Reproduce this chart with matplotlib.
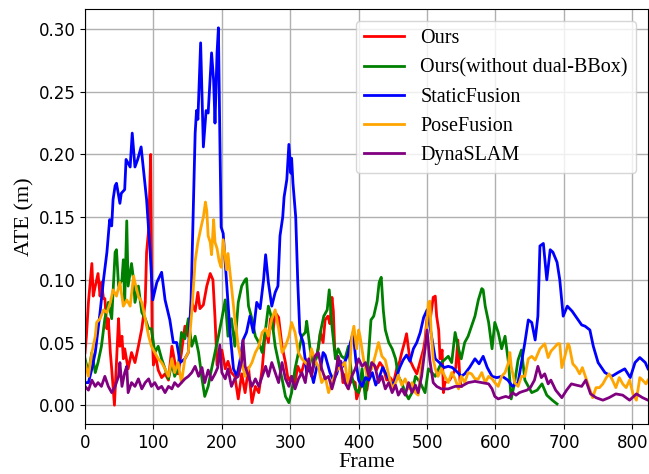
import matplotlib
matplotlib.use("Agg")
import matplotlib.pyplot as plt

# ---------------- data ----------------
ours_f = [0, 2, 5, 10, 12, 15, 19, 22, 24, 27, 29, 32, 34, 37, 39, 43, 46, 49, 51, 54, 56, 58, 63, 68, 73, 78, 83, 88, 90, 93, 96, 98, 100, 103, 107, 112, 117, 122, 127, 131, 136, 141, 146, 151, 156, 161, 165, 168, 173, 178, 183, 187, 190, 193, 197, 200, 205, 209, 214, 219, 224, 229, 234, 239, 244, 249, 254, 259, 264, 268, 271, 275, 278, 283, 288, 293, 297, 302, 306, 311, 316, 322, 327, 331, 336, 341, 344, 348, 351, 355, 358, 361, 363, 365, 370, 374, 377, 381, 384, 390, 395, 397, 400, 406, 412, 417, 421, 426, 431, 436, 441, 446, 451, 456, 460, 463, 467, 470, 475, 480, 485, 490, 495, 497, 501, 505, 509, 512, 514, 517, 519, 522, 524, 526, 533, 538, 542, 545, 548, 550]
ours_v = [0.042, 0.055, 0.082, 0.113, 0.087, 0.095, 0.105, 0.087, 0.098, 0.085, 0.085, 0.061, 0.069, 0.042, 0.029, 0.0, 0.034, 0.069, 0.047, 0.055, 0.037, 0.045, 0.029, 0.042, 0.034, 0.047, 0.061, 0.082, 0.122, 0.14, 0.2, 0.06, 0.032, 0.04, 0.028, 0.022, 0.025, 0.02, 0.047, 0.035, 0.025, 0.042, 0.063, 0.055, 0.082, 0.075, 0.09, 0.077, 0.08, 0.095, 0.105, 0.1, 0.07, 0.032, 0.042, 0.044, 0.029, 0.035, 0.026, 0.023, 0.005, 0.025, 0.01, 0.03, 0.002, 0.015, 0.01, 0.029, 0.061, 0.05, 0.069, 0.06, 0.074, 0.07, 0.047, 0.034, 0.02, 0.023, 0.015, 0.031, 0.025, 0.037, 0.03, 0.024, 0.035, 0.045, 0.058, 0.05, 0.068, 0.071, 0.065, 0.086, 0.075, 0.045, 0.034, 0.035, 0.018, 0.025, 0.014, 0.02, 0.018, 0.005, 0.01, 0.02, 0.012, 0.03, 0.034, 0.028, 0.034, 0.03, 0.02, 0.022, 0.018, 0.03, 0.035, 0.042, 0.05, 0.057, 0.036, 0.03, 0.025, 0.035, 0.045, 0.052, 0.076, 0.07, 0.086, 0.087, 0.071, 0.06, 0.037, 0.044, 0.01, 0.018, 0.02, 0.025, 0.03, 0.052, 0.02, 0.015]

nodual_f = [0, 5, 10, 15, 19, 24, 29, 34, 39, 44, 46, 49, 54, 56, 58, 61, 63, 68, 71, 73, 78, 83, 88, 93, 97, 102, 107, 112, 117, 122, 127, 131, 136, 141, 146, 151, 156, 161, 166, 171, 175, 180, 185, 190, 195, 200, 205, 209, 214, 219, 224, 229, 234, 236, 239, 244, 249, 254, 259, 264, 268, 273, 278, 283, 288, 293, 298, 302, 307, 312, 317, 322, 324, 329, 334, 339, 344, 349, 354, 357, 361, 366, 370, 375, 380, 385, 390, 395, 400, 405, 410, 415, 418, 422, 427, 430, 433, 436, 439, 444, 449, 454, 458, 463, 468, 473, 478, 483, 490, 497, 502, 512, 521, 531, 536, 541, 546, 550, 555, 560, 565, 570, 575, 580, 582, 585, 590, 595, 599, 604, 609, 614, 619, 623, 628, 633, 638, 643, 648, 653, 661, 668, 675, 683, 690]
nodual_v = [0.037, 0.026, 0.042, 0.026, 0.034, 0.047, 0.069, 0.082, 0.069, 0.122, 0.124, 0.095, 0.1, 0.116, 0.082, 0.147, 0.095, 0.113, 0.1, 0.082, 0.095, 0.074, 0.069, 0.061, 0.061, 0.042, 0.047, 0.037, 0.029, 0.021, 0.034, 0.023, 0.029, 0.058, 0.053, 0.069, 0.047, 0.055, 0.042, 0.021, 0.007, 0.015, 0.029, 0.042, 0.055, 0.069, 0.084, 0.055, 0.069, 0.047, 0.082, 0.095, 0.1, 0.101, 0.079, 0.069, 0.055, 0.05, 0.042, 0.061, 0.079, 0.069, 0.047, 0.034, 0.021, 0.007, 0.002, 0.01, 0.029, 0.042, 0.055, 0.058, 0.067, 0.045, 0.031, 0.039, 0.058, 0.071, 0.076, 0.092, 0.063, 0.037, 0.045, 0.039, 0.037, 0.047, 0.023, 0.013, 0.01, 0.029, 0.005, 0.045, 0.068, 0.071, 0.083, 0.098, 0.102, 0.076, 0.06, 0.05, 0.045, 0.037, 0.023, 0.018, 0.01, 0.005, 0.01, 0.023, 0.018, 0.01, 0.029, 0.023, 0.034, 0.039, 0.034, 0.058, 0.045, 0.037, 0.05, 0.055, 0.063, 0.071, 0.084, 0.093, 0.092, 0.079, 0.066, 0.045, 0.066, 0.058, 0.045, 0.055, 0.034, 0.005, 0.018, 0.036, 0.044, 0.02, 0.015, 0.01, 0.012, 0.017, 0.008, 0.004, 0.001]

static_f = [0, 5, 10, 15, 22, 27, 32, 36, 39, 41, 44, 46, 51, 53, 58, 60, 66, 69, 73, 77, 82, 85, 90, 95, 99, 105, 112, 117, 124, 129, 134, 139, 146, 151, 155, 158, 161, 163, 165, 169, 173, 177, 180, 185, 188, 190, 193, 195, 197, 199, 202, 207, 212, 217, 222, 227, 231, 236, 241, 246, 251, 256, 261, 264, 268, 273, 278, 282, 285, 289, 291, 295, 298, 301, 302, 304, 308, 311, 314, 319, 324, 329, 334, 339, 344, 348, 351, 358, 363, 368, 373, 377, 384, 388, 392, 396, 400, 405, 410, 415, 420, 425, 430, 435, 440, 445, 450, 455, 460, 465, 470, 475, 480, 485, 490, 495, 500, 505, 512, 518, 525, 531, 537, 545, 550, 555, 562, 570, 576, 582, 588, 595, 602, 610, 618, 625, 633, 639, 643, 648, 653, 658, 662, 665, 670, 675, 680, 684, 690, 694, 699, 705, 712, 721, 726, 731, 738, 743, 750, 760, 770, 779, 789, 797, 804, 811, 819, 823]
static_v = [0.018, 0.018, 0.029, 0.042, 0.074, 0.1, 0.122, 0.148, 0.143, 0.164, 0.175, 0.177, 0.161, 0.169, 0.172, 0.196, 0.19, 0.217, 0.19, 0.196, 0.206, 0.19, 0.164, 0.124, 0.084, 0.098, 0.106, 0.084, 0.068, 0.05, 0.05, 0.034, 0.037, 0.042, 0.084, 0.15, 0.217, 0.235, 0.228, 0.289, 0.206, 0.235, 0.233, 0.281, 0.259, 0.225, 0.281, 0.301, 0.217, 0.142, 0.137, 0.098, 0.058, 0.029, 0.023, 0.037, 0.052, 0.058, 0.071, 0.058, 0.082, 0.077, 0.1, 0.12, 0.098, 0.079, 0.09, 0.095, 0.135, 0.15, 0.166, 0.18, 0.208, 0.185, 0.197, 0.177, 0.15, 0.098, 0.058, 0.05, 0.026, 0.03, 0.018, 0.031, 0.028, 0.042, 0.04, 0.026, 0.02, 0.025, 0.035, 0.031, 0.04, 0.05, 0.058, 0.035, 0.02, 0.015, 0.022, 0.02, 0.026, 0.016, 0.022, 0.03, 0.025, 0.02, 0.016, 0.022, 0.03, 0.036, 0.04, 0.035, 0.045, 0.05, 0.058, 0.07, 0.076, 0.06, 0.037, 0.034, 0.03, 0.031, 0.03, 0.026, 0.023, 0.025, 0.03, 0.037, 0.033, 0.039, 0.03, 0.023, 0.022, 0.023, 0.02, 0.015, 0.018, 0.037, 0.05, 0.068, 0.066, 0.052, 0.071, 0.127, 0.129, 0.1, 0.124, 0.122, 0.114, 0.1, 0.071, 0.079, 0.075, 0.068, 0.064, 0.063, 0.06, 0.047, 0.034, 0.026, 0.023, 0.026, 0.029, 0.022, 0.034, 0.038, 0.034, 0.029]

pose_f = [0, 5, 10, 15, 17, 22, 27, 32, 37, 41, 46, 51, 56, 61, 66, 71, 73, 78, 83, 88, 93, 97, 102, 107, 112, 117, 122, 127, 131, 136, 141, 146, 151, 156, 161, 165, 170, 173, 176, 178, 180, 183, 185, 188, 190, 193, 196, 199, 202, 207, 209, 214, 219, 224, 229, 234, 239, 244, 249, 254, 259, 264, 268, 273, 278, 283, 288, 293, 298, 302, 307, 312, 317, 322, 327, 331, 336, 341, 346, 351, 356, 361, 366, 370, 375, 380, 385, 390, 393, 397, 400, 402, 407, 412, 419, 424, 429, 434, 439, 444, 449, 454, 458, 463, 468, 473, 478, 483, 487, 492, 497, 502, 504, 506, 509, 512, 516, 521, 526, 531, 536, 541, 546, 550, 555, 560, 565, 570, 575, 580, 585, 590, 595, 599, 604, 609, 614, 619, 621, 623, 628, 633, 638, 643, 648, 653, 658, 665, 672, 677, 681, 686, 691, 694, 697, 701, 706, 708, 713, 718, 723, 727, 732, 737, 742, 747, 752, 757, 762, 766, 771, 776, 781, 786, 791, 796, 801, 806, 811, 815, 820, 823]
pose_v = [0.034, 0.023, 0.042, 0.055, 0.066, 0.069, 0.076, 0.074, 0.082, 0.092, 0.087, 0.098, 0.079, 0.084, 0.079, 0.103, 0.098, 0.087, 0.082, 0.069, 0.055, 0.047, 0.042, 0.037, 0.034, 0.029, 0.023, 0.037, 0.026, 0.034, 0.018, 0.037, 0.042, 0.074, 0.115, 0.13, 0.143, 0.15, 0.162, 0.155, 0.135, 0.13, 0.12, 0.148, 0.13, 0.125, 0.115, 0.11, 0.132, 0.108, 0.121, 0.095, 0.069, 0.047, 0.034, 0.023, 0.029, 0.034, 0.042, 0.047, 0.058, 0.061, 0.055, 0.069, 0.076, 0.061, 0.042, 0.047, 0.055, 0.066, 0.058, 0.042, 0.037, 0.034, 0.031, 0.045, 0.036, 0.031, 0.018, 0.023, 0.01, 0.018, 0.026, 0.029, 0.031, 0.034, 0.013, 0.055, 0.063, 0.045, 0.06, 0.055, 0.037, 0.024, 0.029, 0.039, 0.05, 0.039, 0.036, 0.024, 0.013, 0.018, 0.024, 0.016, 0.021, 0.013, 0.018, 0.01, 0.008, 0.031, 0.045, 0.082, 0.083, 0.058, 0.037, 0.029, 0.023, 0.029, 0.023, 0.018, 0.026, 0.021, 0.013, 0.023, 0.018, 0.026, 0.025, 0.021, 0.021, 0.026, 0.018, 0.023, 0.021, 0.018, 0.015, 0.023, 0.026, 0.034, 0.042, 0.031, 0.018, 0.015, 0.023, 0.023, 0.037, 0.039, 0.036, 0.045, 0.049, 0.038, 0.043, 0.046, 0.049, 0.049, 0.03, 0.038, 0.049, 0.047, 0.033, 0.03, 0.025, 0.03, 0.022, 0.014, 0.006, 0.014, 0.014, 0.017, 0.022, 0.025, 0.02, 0.014, 0.022, 0.017, 0.014, 0.02, 0.009, 0.004, 0.022, 0.02, 0.017, 0.02]

dyna_f = [0, 5, 10, 15, 19, 24, 29, 34, 39, 44, 49, 51, 54, 58, 61, 63, 68, 73, 78, 83, 88, 93, 97, 102, 107, 112, 117, 122, 127, 131, 136, 141, 146, 151, 156, 161, 166, 171, 175, 180, 185, 190, 194, 197, 200, 205, 209, 214, 219, 224, 229, 231, 234, 239, 244, 249, 254, 259, 264, 268, 273, 278, 283, 288, 293, 298, 302, 307, 312, 317, 322, 327, 331, 336, 341, 346, 351, 356, 361, 366, 370, 375, 380, 385, 390, 395, 400, 405, 410, 415, 419, 424, 429, 434, 439, 444, 449, 454, 458, 463, 468, 473, 478, 483, 487, 492, 497, 500, 504, 509, 514, 521, 531, 541, 550, 560, 570, 580, 590, 595, 599, 604, 609, 615, 620, 625, 630, 635, 640, 646, 651, 657, 662, 667, 672, 677, 681, 688, 697, 704, 711, 718, 726, 732, 739, 747, 757, 766, 776, 786, 796, 806, 815, 823]
dyna_v = [0.015, 0.012, 0.02, 0.015, 0.018, 0.015, 0.023, 0.015, 0.01, 0.015, 0.023, 0.034, 0.015, 0.026, 0.031, 0.01, 0.018, 0.015, 0.021, 0.013, 0.018, 0.021, 0.015, 0.018, 0.013, 0.015, 0.01, 0.015, 0.013, 0.018, 0.015, 0.018, 0.021, 0.023, 0.026, 0.031, 0.023, 0.03, 0.018, 0.028, 0.02, 0.025, 0.03, 0.048, 0.026, 0.021, 0.029, 0.015, 0.021, 0.023, 0.035, 0.052, 0.031, 0.023, 0.015, 0.021, 0.015, 0.023, 0.031, 0.023, 0.034, 0.026, 0.018, 0.034, 0.021, 0.015, 0.023, 0.013, 0.021, 0.026, 0.018, 0.037, 0.023, 0.039, 0.042, 0.029, 0.021, 0.023, 0.013, 0.023, 0.039, 0.029, 0.018, 0.013, 0.023, 0.029, 0.037, 0.031, 0.034, 0.023, 0.034, 0.031, 0.018, 0.023, 0.013, 0.018, 0.01, 0.016, 0.008, 0.013, 0.008, 0.018, 0.01, 0.016, 0.01, 0.023, 0.045, 0.06, 0.036, 0.018, 0.015, 0.013, 0.013, 0.015, 0.015, 0.018, 0.019, 0.018, 0.017, 0.013, 0.007, 0.005, 0.006, 0.007, 0.006, 0.01, 0.008, 0.01, 0.011, 0.012, 0.014, 0.02, 0.031, 0.022, 0.025, 0.017, 0.02, 0.012, 0.006, 0.012, 0.017, 0.016, 0.015, 0.02, 0.009, 0.006, 0.004, 0.006, 0.009, 0.008, 0.004, 0.009, 0.006, 0.004]

series_names = ["Ours", "Ours(without dual-BBox)", "StaticFusion", "PoseFusion", "DynaSLAM"]
series_colors = ["red", "green", "blue", "orange", "purple"]
x_ticks = [0, 100, 200, 300, 400, 500, 600, 700, 800]
y_ticks = [0.00, 0.05, 0.10, 0.15, 0.20, 0.25, 0.30]

# ---------------- plot ----------------
fig = plt.figure(figsize=(6.49, 4.74), dpi=100)
ax = fig.add_axes([0.131, 0.1055, 0.8675, 0.8755])

data = [(ours_f, ours_v), (nodual_f, nodual_v), (static_f, static_v),
        (pose_f, pose_v), (dyna_f, dyna_v)]
for (f, v), name, c in zip(data, series_names, series_colors):
    ax.plot(f, v, color=c, lw=2, label=name)

ax.set_xlim(0, 823)
ax.set_ylim(-0.015, 0.316)
ax.set_xticks(x_ticks)
ax.set_yticks(y_ticks)
ax.yaxis.set_major_formatter(matplotlib.ticker.FormatStrFormatter('%.2f'))
ax.tick_params(labelsize=12)
ax.grid(True, color='#b0b0b0', lw=1)
ax.set_axisbelow(True)

serif = ['Liberation Serif', 'DejaVu Serif']
ax.set_xlabel("Frame", fontsize=16, family=serif, labelpad=1)
ax.set_ylabel("ATE (m)", fontsize=16, family=serif, labelpad=3)
ax.legend(loc='upper right', prop={'family': serif, 'size': 14.5},
          borderaxespad=0.6)

fig.savefig("out.png", dpi=100)
